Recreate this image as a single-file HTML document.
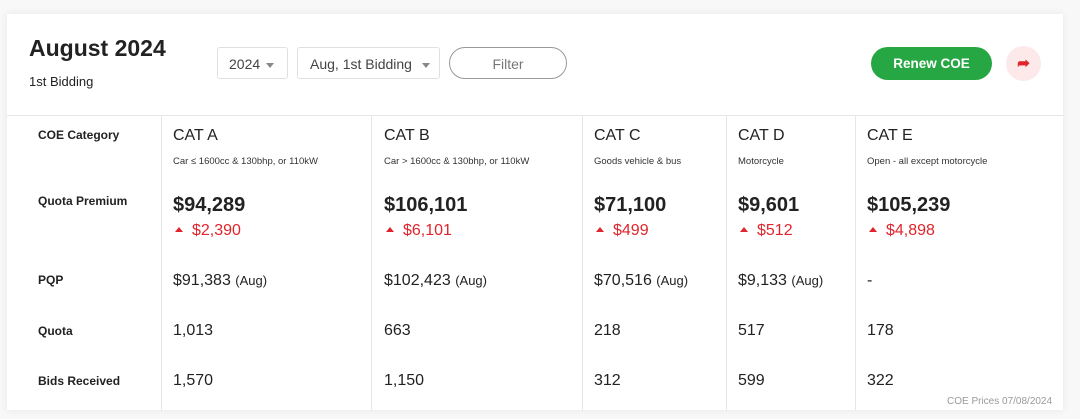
<!DOCTYPE html>
<html><head><style>
body{margin:0;width:1080px;height:419px;background:#f8f8f8;font-family:"Liberation Sans",sans-serif;position:relative;overflow:hidden;color:#222}
.card{position:absolute;left:7px;top:14px;width:1056px;height:396px;background:#fff;box-shadow:0 0 8px rgba(0,0,0,.07)}
.a{position:absolute;white-space:nowrap}
.lbl{font-size:12px;font-weight:bold;left:38px;color:#222}
.vl{position:absolute;top:115px;height:295px;width:1px;background:#e6e6e6}
.cat{font-size:16px}
.sub{font-size:9.5px;color:#333}
.pr{font-size:20px;font-weight:bold;color:#222}
.dl{font-size:16px;color:#e0242b}
.dl i{display:inline-block;border-left:4px solid transparent;border-right:4px solid transparent;border-bottom:5px solid #e0242b;vertical-align:middle;margin:0 9px 3px 2px}
.v{font-size:16px;color:#222}
.v small{font-size:13px}
.box{position:absolute;top:47px;height:32px;border:1px solid #e0e0e0;border-radius:3px;font-size:14px;color:#444;line-height:32px;box-sizing:border-box}
.tri{display:inline-block;border-left:4px solid transparent;border-right:4px solid transparent;border-top:5px solid #888;vertical-align:middle;margin-left:6px}
</style></head><body>
<div class="card"></div>
<div class="a" style="left:29px;top:35px;font-size:23px;font-weight:bold;color:#222">August 2024</div>
<div class="a" style="left:29px;top:74px;font-size:13px;color:#222">1st Bidding</div>
<div class="box" style="left:217px;width:71px;padding-left:11px">2024<span class="tri"></span></div>
<div class="box" style="left:297px;width:143px;padding-left:12px">Aug, 1st Bidding <span class="tri"></span></div>
<div class="box" style="left:449px;width:118px;border-radius:17px;border-color:#999;text-align:center;color:#777">Filter</div>
<div class="a" style="left:871px;top:47px;width:121px;height:33px;border-radius:17px;background:#27a744;color:#fff;font-weight:bold;font-size:13.5px;text-align:center;line-height:33px">Renew COE</div>
<div class="a" style="left:1006px;top:46px;width:35px;height:35px;border-radius:50%;background:#fde9e9;color:#e0242b;text-align:center;line-height:35px;font-size:15px;font-weight:bold">&#10150;</div>
<div class="a" style="left:7px;top:115px;width:1056px;height:1px;background:#e6e6e6"></div>
<div class="vl" style="left:161px"></div><div class="vl" style="left:371px"></div><div class="vl" style="left:582px"></div><div class="vl" style="left:726px"></div><div class="vl" style="left:855px"></div>
<div class="a lbl" style="top:128px">COE Category</div>
<div class="a lbl" style="top:194px">Quota Premium</div>
<div class="a lbl" style="top:273px">PQP</div>
<div class="a lbl" style="top:324px">Quota</div>
<div class="a lbl" style="top:374px">Bids Received</div>

<div class="a cat" style="left:173px;top:127px">CAT A</div>
<div class="a sub" style="left:173px;top:156px">Car ≤ 1600cc &amp; 130bhp, or 110kW</div>
<div class="a pr" style="left:173px;top:194px">$94,289</div>
<div class="a dl" style="left:173px;top:222px"><i></i>$2,390</div>
<div class="a v" style="left:173px;top:272px">$91,383 <small>(Aug)</small></div>
<div class="a v" style="left:173px;top:322px">1,013</div>
<div class="a v" style="left:173px;top:372px">1,570</div>

<div class="a cat" style="left:384px;top:127px">CAT B</div>
<div class="a sub" style="left:384px;top:156px">Car &gt; 1600cc &amp; 130bhp, or 110kW</div>
<div class="a pr" style="left:384px;top:194px">$106,101</div>
<div class="a dl" style="left:384px;top:222px"><i></i>$6,101</div>
<div class="a v" style="left:384px;top:272px">$102,423 <small>(Aug)</small></div>
<div class="a v" style="left:384px;top:322px">663</div>
<div class="a v" style="left:384px;top:372px">1,150</div>

<div class="a cat" style="left:594px;top:127px">CAT C</div>
<div class="a sub" style="left:594px;top:156px">Goods vehicle &amp; bus</div>
<div class="a pr" style="left:594px;top:194px">$71,100</div>
<div class="a dl" style="left:594px;top:222px"><i></i>$499</div>
<div class="a v" style="left:594px;top:272px">$70,516 <small>(Aug)</small></div>
<div class="a v" style="left:594px;top:322px">218</div>
<div class="a v" style="left:594px;top:372px">312</div>

<div class="a cat" style="left:738px;top:127px">CAT D</div>
<div class="a sub" style="left:738px;top:156px">Motorcycle</div>
<div class="a pr" style="left:738px;top:194px">$9,601</div>
<div class="a dl" style="left:738px;top:222px"><i></i>$512</div>
<div class="a v" style="left:738px;top:272px">$9,133 <small>(Aug)</small></div>
<div class="a v" style="left:738px;top:322px">517</div>
<div class="a v" style="left:738px;top:372px">599</div>

<div class="a cat" style="left:867px;top:127px">CAT E</div>
<div class="a sub" style="left:867px;top:156px">Open - all except motorcycle</div>
<div class="a pr" style="left:867px;top:194px">$105,239</div>
<div class="a dl" style="left:867px;top:222px"><i></i>$4,898</div>
<div class="a v" style="left:867px;top:272px">-</div>
<div class="a v" style="left:867px;top:322px">178</div>
<div class="a v" style="left:867px;top:372px">322</div>

<div class="a" style="left:947px;top:396px;font-size:10px;color:#999">COE Prices 07/08/2024</div>
</body></html>
